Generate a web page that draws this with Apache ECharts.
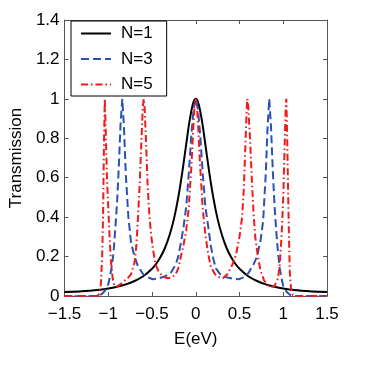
<!DOCTYPE html>
<html>
<head>
<meta charset="utf-8">
<script src="https://cdn.jsdelivr.net/npm/echarts@6/dist/echarts.min.js"></script>
<style>html,body{margin:0;padding:0;background:#fff}#c{width:365px;height:365px}</style>
</head>
<body>
<div id="c"></div>
<script>
var seriesNames = ['N=1', 'N=3', 'N=5'];
var xTicks = [-1.5, -1, -0.5, 0, 0.5, 1, 1.5];
var yTicks = [0, 0.2, 0.4, 0.6, 0.8, 1, 1.2, 1.4];

var e1 = [-1.5, -1.3, -1.1, -1.0, -0.9, -0.8, -0.7, -0.6, -0.5, -0.45, -0.4, -0.35, -0.3, -0.25, -0.2, -0.15, -0.1, -0.075, -0.05, -0.025, 0,
          0.025, 0.05, 0.075, 0.1, 0.15, 0.2, 0.25, 0.3, 0.35, 0.4, 0.45, 0.5, 0.6, 0.7, 0.8, 0.9, 1.0, 1.1, 1.3, 1.5];
var t1 = [0.02, 0.024, 0.032, 0.038, 0.047, 0.059, 0.076, 0.1, 0.138, 0.165, 0.2, 0.246, 0.308, 0.39, 0.5, 0.64, 0.8, 0.877, 0.94, 0.985, 1.0,
          0.985, 0.94, 0.877, 0.8, 0.64, 0.5, 0.39, 0.308, 0.246, 0.2, 0.165, 0.138, 0.1, 0.076, 0.059, 0.047, 0.038, 0.032, 0.024, 0.02];

var e3 = [-1.5, -1.12, -1.08, -1.04, -1.0, -0.98, -0.96, -0.94, -0.92, -0.9, -0.88, -0.86, -0.84, -0.82, -0.8, -0.77, -0.74, -0.7, -0.66, -0.6, -0.55, -0.49, -0.42, -0.35, -0.28, -0.23, -0.2, -0.17, -0.14, -0.11, -0.08, -0.05, -0.025, 0,
          0.025, 0.05, 0.08, 0.11, 0.14, 0.17, 0.2, 0.23, 0.28, 0.35, 0.42, 0.49, 0.55, 0.6, 0.66, 0.7, 0.74, 0.77, 0.8, 0.82, 0.84, 0.86, 0.88, 0.9, 0.92, 0.94, 0.96, 0.98, 1.0, 1.04, 1.08, 1.12, 1.5];
var t3 = [0, 0, 0.008, 0.025, 0.06, 0.1, 0.15, 0.22, 0.34, 0.47, 0.65, 0.87, 1.0, 0.85, 0.62, 0.4, 0.27, 0.2, 0.15, 0.11, 0.095, 0.085, 0.09, 0.1, 0.12, 0.16, 0.2, 0.27, 0.35, 0.45, 0.62, 0.82, 0.95, 1.0,
          0.95, 0.82, 0.62, 0.45, 0.36, 0.26, 0.19, 0.14, 0.11, 0.095, 0.088, 0.085, 0.095, 0.115, 0.16, 0.2, 0.28, 0.38, 0.62, 0.85, 1.0, 0.86, 0.64, 0.46, 0.33, 0.22, 0.14, 0.09, 0.05, 0.02, 0.005, 0, 0];

var e5 = [-1.5, -1.12, -1.1, -1.085, -1.07, -1.06, -1.05, -1.04, -1.03, -1.015, -1.0, -0.985, -0.97, -0.95, -0.93, -0.9, -0.86, -0.82, -0.78, -0.74, -0.7, -0.68, -0.66, -0.64, -0.62, -0.605, -0.595, -0.585, -0.57, -0.55, -0.53, -0.51, -0.49, -0.46, -0.42, -0.38, -0.32, -0.27, -0.23, -0.2, -0.17, -0.14, -0.11, -0.08, -0.05, -0.03, -0.015, 0,
          0.015, 0.03, 0.05, 0.08, 0.11, 0.14, 0.17, 0.22, 0.27, 0.31, 0.36, 0.42, 0.46, 0.5, 0.53, 0.55, 0.57, 0.583, 0.59, 0.6, 0.62, 0.64, 0.66, 0.68, 0.71, 0.74, 0.78, 0.82, 0.86, 0.9, 0.94, 0.96, 0.98, 1.0, 1.015, 1.028, 1.035, 1.045, 1.055, 1.065, 1.075, 1.09, 1.11, 1.15, 1.5];
var t5 = [0, 0, 0.015, 0.06, 0.2, 0.4, 0.75, 1.0, 0.85, 0.6, 0.45, 0.3, 0.18, 0.09, 0.05, 0.048, 0.06, 0.075, 0.09, 0.11, 0.17, 0.25, 0.4, 0.58, 0.8, 0.96, 1.0, 0.96, 0.8, 0.56, 0.41, 0.31, 0.24, 0.16, 0.12, 0.1, 0.09, 0.095, 0.11, 0.14, 0.2, 0.26, 0.33, 0.45, 0.66, 0.84, 0.96, 1.0,
          0.96, 0.84, 0.66, 0.44, 0.31, 0.22, 0.15, 0.11, 0.095, 0.09, 0.11, 0.16, 0.21, 0.3, 0.4, 0.55, 0.8, 0.96, 1.0, 0.96, 0.8, 0.6, 0.42, 0.3, 0.2, 0.13, 0.08, 0.055, 0.045, 0.05, 0.09, 0.16, 0.3, 0.5, 0.75, 0.96, 1.0, 0.8, 0.55, 0.3, 0.12, 0.03, 0.005, 0, 0];

function zip(a, b) { return a.map(function (v, i) { return [v, b[i]]; }); }
function fmtNum(v) { return String(v).replace('-', '\u2212'); }

var FONT = 'Liberation Sans';
var FS = 17;
var axisCol = '#555';
var chart = echarts.init(document.getElementById('c'), null, { renderer: 'canvas' });
var baseX = {
  type: 'value', min: xTicks[0], max: xTicks[xTicks.length - 1], interval: 0.5,
  axisLine: { onZero: false, lineStyle: { color: axisCol, width: 1 } },
  axisTick: { inside: true, length: 4, lineStyle: { color: axisCol } },
  splitLine: { show: false }
};
var baseY = {
  type: 'value', min: yTicks[0], max: yTicks[yTicks.length - 1], interval: 0.2,
  axisLine: { onZero: false, lineStyle: { color: axisCol, width: 1 } },
  axisTick: { inside: true, length: 4, lineStyle: { color: axisCol } },
  splitLine: { show: false }
};
chart.setOption({
  animation: false,
  backgroundColor: '#fff',
  grid: { left: 63, right: 38, top: 20, bottom: 69, containLabel: false },
  legend: {
    data: seriesNames, orient: 'vertical', left: 71, top: 21,
    backgroundColor: '#fff', borderColor: '#000', borderWidth: 1,
    padding: [4, 14, 3, 9], itemWidth: 30, itemHeight: 14, itemGap: 8.5,
    itemStyle: { opacity: 0, borderWidth: 0 },
    textStyle: { fontFamily: FONT, fontSize: FS, color: '#000', padding: [0, 0, 0, 5] }
  },
  xAxis: [
    Object.assign({}, baseX, {
      position: 'bottom', name: 'E(eV)', nameLocation: 'middle', nameGap: 35,
      nameTextStyle: { fontFamily: FONT, fontSize: FS, color: '#000' },
      axisLabel: { margin: 10, fontFamily: FONT, fontSize: FS, color: '#000', formatter: fmtNum }
    }),
    Object.assign({}, baseX, { position: 'top', axisLabel: { show: false } })
  ],
  yAxis: [
    Object.assign({}, baseY, {
      position: 'left', name: 'Transmission', nameLocation: 'middle', nameGap: 31,
      nameTextStyle: { fontFamily: FONT, fontSize: FS, color: '#000' },
      axisLabel: { margin: 5, fontFamily: FONT, fontSize: FS, color: '#000', formatter: fmtNum }
    }),
    Object.assign({}, baseY, { position: 'right', axisLabel: { show: false } })
  ],
  series: [
    { name: seriesNames[0], type: 'line', data: zip(e1, t1), symbol: 'none', smooth: 0.3, z: 3,
      lineStyle: { color: '#000', width: 2, type: 'solid' }, itemStyle: { color: '#000' } },
    { name: seriesNames[1], type: 'line', data: zip(e3, t3), symbol: 'none', z: 4,
      lineStyle: { color: '#2a52b5', width: 2, type: [8, 4] }, itemStyle: { color: '#2a52b5' } },
    { name: seriesNames[2], type: 'line', data: zip(e5, t5), symbol: 'none', z: 5,
      lineStyle: { color: '#f01a1a', width: 2, type: [7, 3, 1.5, 3] }, itemStyle: { color: '#f01a1a' } }
  ]
});
</script>
</body>
</html>
